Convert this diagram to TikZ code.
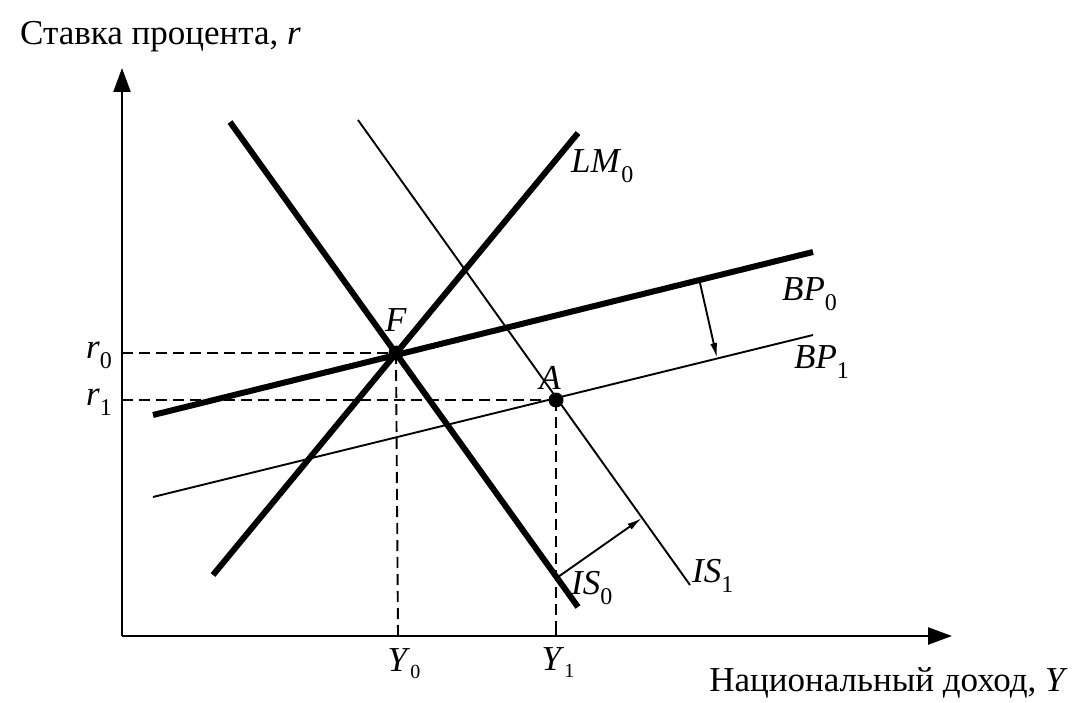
\documentclass[tikz,border=0pt]{standalone}
\usepackage{fontspec}
\setmainfont{Liberation Serif}
\usetikzlibrary{arrows.meta}
\newcommand\sublab[2]{\textit{#1}\raisebox{-0.28em}{\fontsize{24}{24}\selectfont #2}}
\newcommand\smallsublab[2]{\textit{#1}\raisebox{-0.2em}{\fontsize{20}{20}\selectfont #2}}
\tikzset{
  axis/.style={line width=2.4pt,-{Triangle[length=24pt,width=17pt]}},
  thick curve/.style={line width=6pt},
  thin curve/.style={line width=1.9pt},
  guide/.style={line width=1.9pt,dash pattern=on 11pt off 6pt},
  shift arrow/.style={line width=1.9pt,-{Latex[length=15pt,width=7pt]}},
  lab/.style={font=\fontsize{35}{38}\selectfont,inner sep=0pt},
  dot/.style={circle,fill=black,inner sep=0pt,minimum size=15pt}
}
\begin{document}
\begin{tikzpicture}[x=1pt,y=-1pt]
\useasboundingbox (0,0) rectangle (1075,703);
% axes
\coordinate (O) at (122,636);
\coordinate (ytip) at (122,68);
\coordinate (xtip) at (952,636);
\draw[axis] (O) -- (ytip);
\draw[axis] (O) -- (xtip);
% curves
\coordinate (is0a) at (230,122); \coordinate (is0b) at (578,607);
\coordinate (lm0a) at (213,575); \coordinate (lm0b) at (578,133);
\coordinate (bp0a) at (153,415); \coordinate (bp0b) at (813,252);
\coordinate (bp1a) at (153,497); \coordinate (bp1b) at (813,335);
\coordinate (is1a) at (358,120); \coordinate (is1b) at (690,585);
% guide lines
\node[dot] (F) at (396,353) {};
\node[dot] (A) at (556,400) {};
\coordinate (r0) at (122,353);
\coordinate (r1) at (122,400);
\coordinate (Y0) at (398,636);
\coordinate (Y1) at (556,636);
\draw[guide] (r0) -- (F.center);
\draw[guide] (r1) -- (A.center);
\draw[guide] (F.center) -- (Y0);
\draw[guide] (A.center) -- (Y1);
\draw[line width=1.5pt] (Y0) -- ++(0,-7);
\draw[line width=1.5pt] (Y1) -- ++(0,-7);
\draw[thin curve] (bp1a) -- (bp1b);
\draw[thin curve] (is1a) -- (is1b);
\draw[thick curve] (is0a) -- (is0b);
\draw[thick curve] (lm0a) -- (lm0b);
\draw[thick curve] (bp0a) -- (bp0b);
% shift arrows
\coordinate (s1) at (700,283); \coordinate (e1) at (717,358);
\draw[shift arrow] (s1) -- (e1);
\coordinate (s2) at (558,577); \coordinate (e2) at (642,518);
\draw[shift arrow] (s2) -- (e2);
% labels
\node[lab,anchor=west] (ylab) at (20,37) {Ставка процента, \textit{r}};
\node[lab,anchor=east] (xlab) at (1068,683) {Национальный доход, \textit{Y}};
\node[lab] (Flab) at (396,320) {\textit{F}};
\node[lab] (Alab) at (550,378) {\textit{A}};
\node[lab,anchor=west] (LMlab) at (571,166) {\sublab{LM}{0}};
\node[lab,anchor=west] (BP0lab) at (782,294) {\sublab{BP}{0}};
\node[lab,anchor=west] (BP1lab) at (794,362) {\sublab{BP}{1}};
\node[lab,anchor=west] (IS1lab) at (692,576) {\sublab{IS}{1}};
\node[lab,anchor=west] (IS0lab) at (571,588) {\sublab{IS}{0}};
\node[lab,anchor=east] (r0lab) at (112,355) {\sublab{r}{0}};
\node[lab,anchor=east] (r1lab) at (112,402) {\sublab{r}{1}};
\node[lab] (Y0lab) at (404,664) {\smallsublab{Y}{0}};
\node[lab] (Y1lab) at (558,663) {\smallsublab{Y}{1}};
\end{tikzpicture}
\end{document}
